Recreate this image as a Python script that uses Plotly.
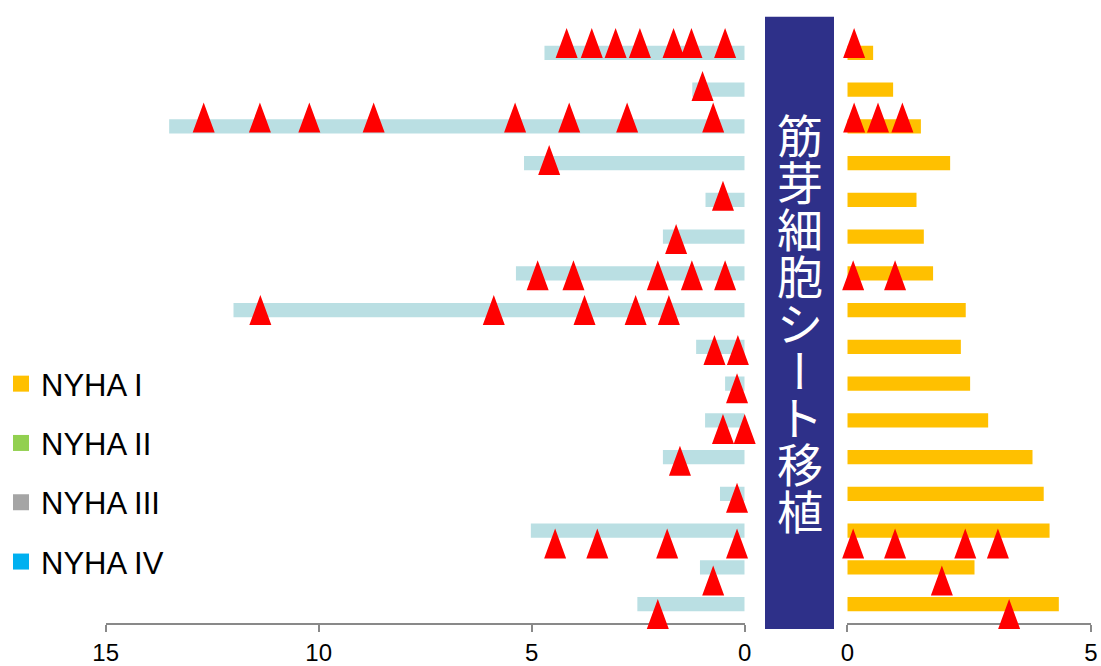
import plotly.graph_objects as go

W, H = 1101, 666

# ---- data -------------------------------------------------------------
# one row per patient, top to bottom
rows = list(range(16))

# observation period before myoblast sheet transplantation (years)
pre_years = [4.70, 1.23, 13.51, 5.18, 0.92, 1.92, 5.37, 12.00,
             1.14, 0.46, 0.93, 1.92, 0.58, 5.02, 1.05, 2.52]

# follow-up after transplantation (years)
post_years = [0.53, 0.94, 1.51, 2.11, 1.42, 1.57, 1.76, 2.43,
              2.33, 2.52, 2.89, 3.80, 4.03, 4.15, 2.61, 4.34]

# heart-failure admissions: years before transplantation
pre_events = [
    [4.18, 3.59, 3.03, 2.46, 1.67, 1.25, 0.46],
    [0.99],
    [12.70, 11.38, 10.22, 8.71, 5.39, 4.12, 2.76, 0.74],
    [4.59],
    [0.51],
    [1.61],
    [4.86, 4.02, 2.04, 1.24, 0.46],
    [11.37, 5.89, 3.76, 2.56, 1.78],
    [0.71, 0.16],
    [0.18],
    [0.51, 0.00],
    [1.52],
    [0.18],
    [4.45, 3.46, 1.82, 0.18],
    [0.74],
    [2.04],
]

# heart-failure admissions: years after transplantation
post_events = [
    [0.14], [], [0.14, 0.63, 1.13], [], [], [], [0.12, 0.98], [],
    [], [], [], [], [], [0.12, 0.98, 2.42, 3.09], [1.94], [3.32],
]

# vertical position of each row's event markers
event_row = [-0.27, 0.90, 1.76, 2.92, 3.89, 5.07, 6.05, 7.00,
             8.09, 9.13, 10.24, 11.10, 12.11, 13.35, 14.36, 15.27]

left_ticks = [0, 5, 10, 15]
right_ticks = [0, 5]

legend_names = ["NYHA I", "NYHA II", "NYHA III", "NYHA IV"]
legend_colors = ["#FFC000", "#92D050", "#A5A5A5", "#00B0F0"]

band_label = "筋芽細胞シート移植"

# ---- geometry (pixels) -------------------------------------------------
L15, L0 = 105.7, 744.7        # left axis: 15 .. 0
R0, R5 = 847.3, 1091.0        # right axis: 0 .. 5
TOP, AXIS_Y = 16.7, 623.3
ROW0, ROW_STEP = 52.8, 36.75  # first row centre, row pitch

kL = (L0 - L15) / 15.0
kR = (R5 - R0) / 5.0

def row_at(py):
    return (py - ROW0) / ROW_STEP

# marker layer extends a little past the axes so triangles are not clipped
EXT_L = (95.0, 762.0)
EXT_R = (836.0, 1100.0)
EXT_Y = (8.0, 645.0)

TRI_HALF_W = 11.0   # px
TRI_HALF_H = 15.0   # px


def triangles(xs_per_row, ys, half_w, half_h):
    tx, ty = [], []
    for xs, y in zip(xs_per_row, ys):
        for x in xs:
            tx += [x - half_w, x, x + half_w, x - half_w, None]
            ty += [y + half_h, y - half_h, y + half_h, y + half_h, None]
    return tx, ty


fig = go.Figure()

fig.add_trace(go.Bar(
    x=pre_years, y=rows, orientation="h", xaxis="x", yaxis="y",
    marker=dict(color="#BADFE3", line=dict(width=0)),
    width=0.39, showlegend=False, hoverinfo="skip"))

fig.add_trace(go.Bar(
    x=post_years, y=rows, orientation="h", xaxis="x2", yaxis="y",
    marker=dict(color="#FFC000", line=dict(width=0)),
    width=0.39, showlegend=False, hoverinfo="skip"))

hh = TRI_HALF_H / ROW_STEP
lx, ly = triangles(pre_events, event_row, TRI_HALF_W / kL, hh)
rx, ry = triangles(post_events, event_row, TRI_HALF_W / kR, hh)

for tx, ty, xa in ((lx, ly, "x3"), (rx, ry, "x4")):
    fig.add_trace(go.Scatter(
        x=tx, y=ty, xaxis=xa, yaxis="y2", mode="lines",
        fill="toself", fillcolor="#FF0000",
        line=dict(width=0, color="#FF0000"),
        showlegend=False, hoverinfo="skip"))

for name, color in zip(legend_names, legend_colors):
    fig.add_trace(go.Scatter(
        x=[None], y=[None], mode="markers", name=name, legendgroup=name,
        marker=dict(symbol="square", size=16, color=color)))

axis_style = dict(
    showline=True, linecolor="#898989", linewidth=2,
    ticks="outside", ticklen=7, tickwidth=2, tickcolor="#898989",
    showgrid=False, zeroline=False, fixedrange=True, automargin=False,
    tickfont=dict(family="Liberation Sans, Arial, sans-serif", size=24, color="#000000"),
    ticklabelstandoff=0,
)

hidden = dict(visible=False, showgrid=False, zeroline=False,
              fixedrange=True, automargin=False)

fig.update_layout(
    width=W, height=H, autosize=False,
    margin=dict(l=0, r=0, t=0, b=0, pad=0),
    paper_bgcolor="white", plot_bgcolor="rgba(0,0,0,0)",
    barmode="overlay",
    xaxis=dict(domain=[L15 / W, L0 / W], range=[15, 0], tickvals=left_ticks,
               anchor="y", **axis_style),
    xaxis2=dict(domain=[R0 / W, R5 / W], range=[0, 5], tickvals=right_ticks,
                anchor="y", **axis_style),
    yaxis=dict(domain=[1 - AXIS_Y / H, 1 - TOP / H],
               range=[row_at(AXIS_Y), row_at(TOP)], anchor="x", **hidden),
    xaxis3=dict(domain=[EXT_L[0] / W, EXT_L[1] / W],
                range=[(L0 - EXT_L[0]) / kL, (L0 - EXT_L[1]) / kL],
                anchor="y2", **hidden),
    xaxis4=dict(domain=[EXT_R[0] / W, EXT_R[1] / W],
                range=[(EXT_R[0] - R0) / kR, (EXT_R[1] - R0) / kR],
                anchor="y2", **hidden),
    yaxis2=dict(domain=[1 - EXT_Y[1] / H, 1 - EXT_Y[0] / H],
                range=[row_at(EXT_Y[1]), row_at(EXT_Y[0])], anchor="x3", **hidden),
    legend=dict(
        x=1 / W, y=1 - 357 / H, xanchor="left", yanchor="top",
        font=dict(family="Liberation Sans, Arial, sans-serif", size=31, color="#000000"),
        tracegroupgap=16, bgcolor="rgba(0,0,0,0)", itemwidth=30,
        itemclick=False, itemdoubleclick=False,
    ),
    shapes=[dict(type="rect", xref="paper", yref="paper",
                 x0=765 / W, x1=834 / W, y0=1 - 629 / H, y1=1 - TOP / H,
                 fillcolor="#2E3089", line=dict(width=0), layer="below")],
)

# vertical caption inside the transplantation band: one character per line,
# line pitch set by the base font size, glyphs enlarged through spans
CHAR_PITCH = 47.0
GLYPH_SIZE = 46
base_size = CHAR_PITCH / 1.3
glyphs = []
for ch in band_label:
    style = f"font-size:{GLYPH_SIZE}px"
    if ch == "ー":
        style += ";font-feature-settings:'vert' 1"
    glyphs.append(f'<span style="{style}">{ch}</span>')

fig.add_annotation(
    x=799.5 / W, y=1 - 321.5 / H, xref="paper", yref="paper",
    text="<br>".join(glyphs), showarrow=False,
    xanchor="center", yanchor="middle", align="center",
    font=dict(family="Noto Sans CJK JP", size=base_size, color="white"))

fig.write_html("out.html")
